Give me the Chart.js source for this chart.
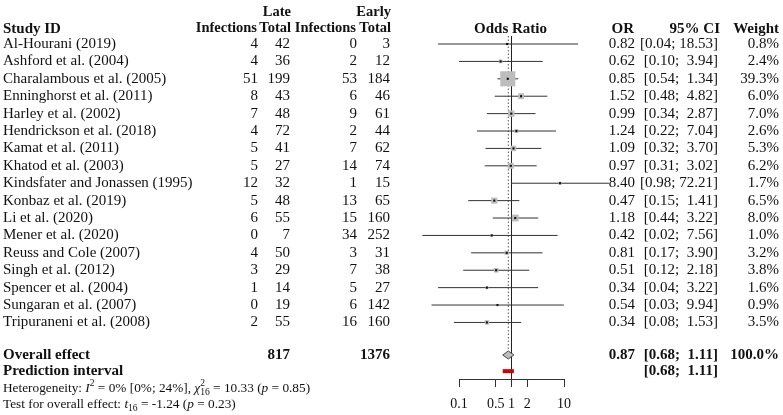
<!DOCTYPE html>
<html>
<head>
<meta charset="utf-8">
<script src="https://cdn.jsdelivr.net/npm/chart.js@4.4.1/dist/chart.umd.min.js"></script>
<style>
  html, body { margin: 0; padding: 0; background: #fff; }
  #wrap { width: 783px; height: 415px; }
</style>
</head>
<body>
<div id="wrap"><canvas id="forest"></canvas></div>
<script>
const studies = [
    'Al-Hourani (2019)', 'Ashford et al. (2004)', 'Charalambous et al. (2005)',
    'Enninghorst et al. (2011)', 'Harley et al. (2002)', 'Hendrickson et al. (2018)',
    'Kamat et al. (2011)', 'Khatod et al. (2003)', 'Kindsfater and Jonassen (1995)',
    'Konbaz et al. (2019)', 'Li et al. (2020)', 'Mener et al. (2020)',
    'Reuss and Cole (2007)', 'Singh et al. (2012)', 'Spencer et al. (2004)',
    'Sungaran et al. (2007)', 'Tripuraneni et al. (2008)'
];
const lateInfections = [4, 4, 51, 8, 7, 4, 5, 5, 12, 5, 6, 0, 4, 3, 1, 0, 2];
const lateTotals = [42, 36, 199, 43, 48, 72, 41, 27, 32, 48, 55, 7, 50, 29, 14, 19, 55];
const earlyInfections = [0, 2, 53, 6, 9, 2, 7, 14, 1, 13, 15, 34, 3, 7, 5, 6, 16];
const earlyTotals = [3, 12, 184, 46, 61, 44, 62, 74, 15, 65, 160, 252, 31, 38, 27, 142, 160];
const oddsRatios = [0.82, 0.62, 0.85, 1.52, 0.99, 1.24, 1.09, 0.97, 8.40, 0.47, 1.18, 0.42, 0.81, 0.51, 0.34, 0.54, 0.34];
const ciLower = [0.04, 0.10, 0.54, 0.48, 0.34, 0.22, 0.32, 0.31, 0.98, 0.15, 0.44, 0.02, 0.17, 0.12, 0.04, 0.03, 0.08];
const ciUpper = [18.53, 3.94, 1.34, 4.82, 2.87, 7.04, 3.70, 3.02, 72.21, 1.41, 3.22, 7.56, 3.90, 2.18, 3.22, 9.94, 1.53];
const weights = [0.8, 2.4, 39.3, 6.0, 7.0, 2.6, 5.3, 6.2, 1.7, 6.5, 8.0, 1.0, 3.2, 3.8, 1.6, 0.9, 3.5];

const overallTotals = [817, 1376];
const overallOR = 0.87;
const overallCI = [0.68, 1.11];
const predictionCI = [0.68, 1.11];
const overallWeight = 100.0;
const axisTicks = [0.1, 0.5, 1, 2, 10];

// row positions on the hidden y axis
const yMin = -0.46;
const yMax = 19.25;
const overallRow = 17.87;
const predictionRow = 18.8;
const diamondHalf = 0.23;

const serif = '"Liberation Serif", "Times New Roman", serif';
const ink = '#111';

function ciText(lo, hi) {
    const hiStr = hi.toFixed(2);
    return '[' + lo.toFixed(2) + ';' + (hiStr.length < 5 ? '  ' : ' ') + hiStr + ']';
}

function drawRich(ctx, parts, x0, y0, size) {
    let px = x0;
    ctx.textAlign = 'left';
    parts.forEach(p => {
        const small = p.sup || p.sub;
        const s = small ? size * 0.72 : size;
        ctx.font = (p.i ? 'italic ' : '') + s + 'px ' + serif;
        const dy = p.sup ? -size * 0.36 : p.sub ? size * 0.3 : 0;
        ctx.fillText(p.t, px, y0 + dy);
        if (!p.stack) px += ctx.measureText(p.t).width;
    });
}

const forestText = {
    id: 'forestText',
    afterDraw(chart) {
        const { ctx } = chart;
        const x = chart.scales.x;
        const y = chart.scales.y;
        const rowY = v => y.getPixelForValue(v);
        const put = (txt, px, py, align, bold, size) => {
            ctx.font = (bold ? 'bold ' : '') + (size || 15) + 'px ' + serif;
            ctx.textAlign = align;
            ctx.fillText(txt, px, py);
        };
        const col = { study: 3, lateInf: 258, lateTot: 290, earlyInf: 357, earlyTot: 390, or: 635, ci: 718, weight: 779 };

        ctx.save();
        ctx.fillStyle = ink;
        ctx.textBaseline = 'middle';

        // headers
        const h1 = rowY(-1.84);
        const h2 = rowY(-0.88);
        put('Late', col.lateTot + 1, h1, 'right', true, 14.5);
        put('Early', col.earlyTot + 1, h1, 'right', true, 14.5);
        put('Study ID', col.study, h2, 'left', true);
        put('Infections', col.lateInf - 1, h2, 'right', true, 14.5);
        put('Total', col.lateTot + 1, h2, 'right', true, 14.5);
        put('Infections', col.earlyInf - 1, h2, 'right', true, 14.5);
        put('Total', col.earlyTot + 1, h2, 'right', true, 14.5);
        put('Odds Ratio', x.getPixelForValue(1) - 1, h2, 'center', true);
        put('OR', col.or - 1, h2, 'right', true);
        put('95% CI', col.ci + 2, h2, 'right', true);
        put('Weight', col.weight, h2, 'right', true);

        // study rows
        studies.forEach((name, i) => {
            const py = rowY(i);
            put(name, col.study, py, 'left');
            put(String(lateInfections[i]), col.lateInf, py, 'right');
            put(String(lateTotals[i]), col.lateTot, py, 'right');
            put(String(earlyInfections[i]), col.earlyInf, py, 'right');
            put(String(earlyTotals[i]), col.earlyTot, py, 'right');
            put(oddsRatios[i].toFixed(2), col.or, py, 'right');
            put(ciText(ciLower[i], ciUpper[i]), col.ci, py, 'right');
            put(weights[i].toFixed(1) + '%', col.weight, py, 'right');
        });

        // summary rows
        const oy = rowY(overallRow);
        put('Overall effect', col.study, oy, 'left', true);
        put(String(overallTotals[0]), col.lateTot, oy, 'right', true);
        put(String(overallTotals[1]), col.earlyTot, oy, 'right', true);
        put(overallOR.toFixed(2), col.or, oy, 'right', true);
        put(ciText(overallCI[0], overallCI[1]), col.ci, oy, 'right', true);
        put(overallWeight.toFixed(1) + '%', col.weight, oy, 'right', true);

        const py = rowY(predictionRow);
        put('Prediction interval', col.study, py, 'left', true);
        put(ciText(predictionCI[0], predictionCI[1]), col.ci, py, 'right', true);

        drawRich(ctx, [
            { t: 'Heterogeneity: ' }, { t: 'I', i: 1 }, { t: '2', sup: 1 },
            { t: ' = 0% [0%; 24%], ' }, { t: 'χ', i: 1 }, { t: '2', sup: 1, stack: 1 },
            { t: '16', sub: 1 }, { t: ' = 10.33 (' }, { t: 'p', i: 1 }, { t: ' = 0.85)' }
        ], col.study, rowY(19.77), 13.3);
        drawRich(ctx, [
            { t: 'Test for overall effect: ' }, { t: 't', i: 1 }, { t: '16', sub: 1 },
            { t: ' = -1.24 (' }, { t: 'p', i: 1 }, { t: ' = 0.23)' }
        ], col.study, rowY(20.69), 13.3);

        ctx.restore();
    }
};

const ciSegments = [];
studies.forEach((_, i) => {
    ciSegments.push({ x: ciLower[i], y: i }, { x: ciUpper[i], y: i }, { x: null, y: null });
});
const estimates = oddsRatios.map((v, i) => ({ x: v, y: i }));
const diamond = [
    { x: overallCI[0], y: overallRow },
    { x: overallOR, y: overallRow - diamondHalf },
    { x: overallCI[1], y: overallRow },
    { x: overallOR, y: overallRow + diamondHalf },
    { x: overallCI[0], y: overallRow }
];

new Chart(document.getElementById('forest'), {
    type: 'scatter',
    data: {
        datasets: [
            {
                type: 'line',
                data: predictionCI.map(v => ({ x: v, y: predictionRow })),
                borderColor: '#d40000',
                borderWidth: 4,
                borderCapStyle: 'butt',
                pointRadius: 0,
                clip: false,
            },
            {
                type: 'line',
                data: diamond,
                borderColor: '#4a4a4a',
                borderWidth: 1,
                backgroundColor: '#bdbdbd',
                fill: 'shape',
                pointRadius: 0,
                clip: false,
            },
            {
                data: estimates,
                pointStyle: 'rect',
                pointRadius: 1.5,
                backgroundColor: '#111',
                borderWidth: 0,
                clip: false,
            },
            {
                data: estimates,
                pointStyle: 'rect',
                pointRadius: weights.map(w => Math.sqrt(w) * 1.7),
                backgroundColor: '#bdbdbd',
                borderWidth: 0,
                clip: false,
            },
            {
                type: 'line',
                data: ciSegments,
                borderColor: '#333',
                borderWidth: 1,
                pointRadius: 0,
                spanGaps: false,
                clip: false,
            },
            {
                type: 'line',
                data: [{ x: overallOR, y: yMin }, { x: overallOR, y: overallRow - diamondHalf }],
                borderColor: '#555',
                borderWidth: 1,
                borderDash: [1.5, 2],
                pointRadius: 0,
                clip: false,
            },
            {
                type: 'line',
                data: [{ x: 1, y: yMin }, { x: 1, y: yMax }],
                borderColor: '#222',
                borderWidth: 1,
                pointRadius: 0,
                clip: false,
            },
        ],
    },
    options: {
        responsive: true,
        maintainAspectRatio: false,
        animation: false,
        events: [],
        layout: {
            padding: { left: 459, right: 219, top: 36, bottom: 0 },
        },
        plugins: {
            legend: { display: false },
            tooltip: { enabled: false },
        },
        scales: {
            x: {
                type: 'logarithmic',
                min: 0.1,
                max: 10,
                position: 'bottom',
                afterBuildTicks: scale => {
                    scale.ticks = axisTicks.map(v => ({ value: v }));
                },
                afterFit: scale => {
                    scale.height = 36;
                },
                border: { display: true, color: '#333', width: 1 },
                grid: { drawOnChartArea: false, drawTicks: true, tickLength: 8, color: '#333' },
                ticks: {
                    autoSkip: false,
                    maxRotation: 0,
                    padding: 9,
                    color: ink,
                    font: { family: serif, size: 14 },
                    callback: v => String(v),
                },
            },
            y: {
                type: 'linear',
                min: yMin,
                max: yMax,
                reverse: true,
                display: false,
            },
        },
    },
    plugins: [forestText],
});
</script>
</body>
</html>
